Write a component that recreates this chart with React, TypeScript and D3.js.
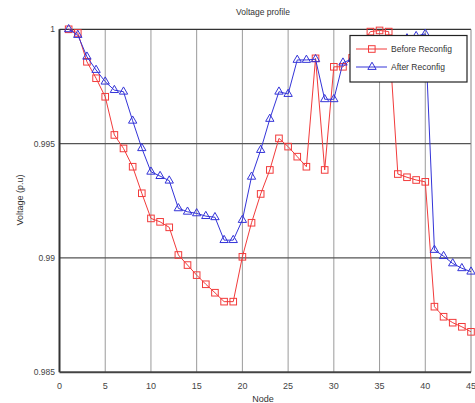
import React, { useEffect, useRef } from "react";
import * as d3 from "d3";

const nodes = [1,2,3,4,5,6,7,8,9,10,11,12,13,14,15,16,17,18,19,20,21,22,23,24,25,26,27,28,29,30,31,32,33,34,35,36,37,38,39,40,41,42,43,44,45];
const beforeReconfig = [1.0,0.99984,0.99858,0.99786,0.99705,0.99538,0.99479,0.99399,0.99283,0.99173,0.99158,0.99134,0.99013,0.98969,0.98925,0.98885,0.98848,0.98809,0.98809,0.99005,0.99154,0.9928,0.99385,0.99523,0.99487,0.99443,0.99399,0.99873,0.99385,0.99836,0.99836,0.99875,0.99935,0.9999,0.99995,0.9999,0.99367,0.99353,0.99341,0.99333,0.98787,0.98743,0.98717,0.98699,0.98677];
const afterReconfig = [1.0,0.99975,0.9988,0.99822,0.99771,0.99734,0.99727,0.996,0.9948,0.99377,0.99358,0.99338,0.99217,0.99202,0.99195,0.99183,0.99178,0.99078,0.99078,0.99166,0.99355,0.99472,0.99608,0.99727,0.99717,0.99866,0.99866,0.99869,0.99694,0.99694,0.99854,0.9987,0.9989,0.9991,0.9993,0.9994,0.9995,0.9996,0.9997,0.9998,0.99035,0.99008,0.98976,0.98955,0.9894];
const xTicks = [0,5,10,15,20,25,30,35,40,45];
const yTicks = [0.985,0.99,0.995,1];
const yTickLabels = ["0.985","0.99","0.995","1"];
const seriesNames = ["Before Reconfig","After Reconfig"];

const W = 475, H = 403;
const L = 59.5, R = 471, T = 29.3, B = 372.3;
const RED = "#f23b3b";
const BLUE = "#3434d8";
const FONT = "Liberation Sans, Arial, sans-serif";

export default function App() {
  const ref = useRef<SVGSVGElement>(null);
  useEffect(() => {
    const svg = d3.select(ref.current);
    svg.selectAll("*").remove();
    const x = d3.scaleLinear().domain([0, 45]).range([L, R]);
    const y = d3.scaleLinear().domain([0.985, 1]).range([B, T]);

    svg.append("rect").attr("width", W).attr("height", H).attr("fill", "#fff");

    // grid
    const g = svg.append("g");
    g.selectAll("line.vx").data(xTicks.filter(t => t > 0 && t < 45)).enter().append("line")
      .attr("x1", d => x(d)).attr("x2", d => x(d)).attr("y1", T).attr("y2", B)
      .attr("stroke", "#9a9a9a").attr("stroke-width", 1);
    g.selectAll("line.hy").data(yTicks.filter(t => t > 0.985 && t < 1)).enter().append("line")
      .attr("x1", L).attr("x2", R).attr("y1", d => y(d)).attr("y2", d => y(d))
      .attr("stroke", "#555").attr("stroke-width", 1.2);

    // frame
    svg.append("line").attr("x1", L).attr("x2", R).attr("y1", T).attr("y2", T).attr("stroke", "#333").attr("stroke-width", 1.3);
    svg.append("line").attr("x1", R).attr("x2", R).attr("y1", T).attr("y2", B).attr("stroke", "#888").attr("stroke-width", 1);
    svg.append("line").attr("x1", L).attr("x2", L).attr("y1", T).attr("y2", B).attr("stroke", "#333").attr("stroke-width", 2);
    svg.append("line").attr("x1", L).attr("x2", R).attr("y1", B).attr("y2", B).attr("stroke", "#444").attr("stroke-width", 2);

    // ticks labels
    svg.selectAll("text.xt").data(xTicks).enter().append("text")
      .attr("x", d => x(d)).attr("y", 389).attr("text-anchor", "middle")
      .attr("font-family", FONT).attr("font-size", 9).attr("fill", "#444").text(d => String(d));
    svg.selectAll("text.yt").data(yTicks).enter().append("text")
      .attr("x", 55).attr("y", d => y(d) + 3).attr("text-anchor", "end")
      .attr("font-family", FONT).attr("font-size", 8.5).attr("fill", "#444").text((d, i) => yTickLabels[i]);

    // titles
    svg.append("text").attr("x", 263).attr("y", 15).attr("text-anchor", "middle")
      .attr("font-family", FONT).attr("font-size", 8.5).attr("fill", "#333").text("Voltage profile");
    svg.append("text").attr("x", 263).attr("y", 402).attr("text-anchor", "middle")
      .attr("font-family", FONT).attr("font-size", 9).attr("fill", "#333").text("Node");
    svg.append("text").attr("transform", "translate(23,200) rotate(-90)").attr("text-anchor", "middle")
      .attr("font-family", FONT).attr("font-size", 9).attr("fill", "#333").text("Voltage (p.u)");

    const line = d3.line<number>().x((d, i) => x(nodes[i])).y(d => y(d));
    const tri = d3.symbol().type(d3.symbolTriangle).size(30);

    // before
    svg.append("path").attr("d", line(beforeReconfig)).attr("fill", "none").attr("stroke", RED).attr("stroke-width", 1);
    svg.selectAll("rect.mk").data(beforeReconfig).enter().append("rect")
      .attr("x", (d, i) => x(nodes[i]) - 3.3).attr("y", d => y(d) - 3.3)
      .attr("width", 6.6).attr("height", 6.6).attr("fill", "none").attr("stroke", RED).attr("stroke-width", 1);
    // after
    svg.append("path").attr("d", line(afterReconfig)).attr("fill", "none").attr("stroke", BLUE).attr("stroke-width", 1);
    svg.selectAll("path.mk").data(afterReconfig).enter().append("path")
      .attr("d", tri()).attr("transform", (d, i) => `translate(${x(nodes[i])},${y(d)})`)
      .attr("fill", "none").attr("stroke", BLUE).attr("stroke-width", 1);

    // legend
    const lg = svg.append("g");
    lg.append("rect").attr("x", 350).attr("y", 35.5).attr("width", 117).attr("height", 46.5)
      .attr("fill", "#fff").attr("stroke", "#222").attr("stroke-width", 1.2);
    const rows = [49, 67];
    const cols = [RED, BLUE];
    rows.forEach((ry, i) => {
      lg.append("line").attr("x1", 356).attr("x2", 387).attr("y1", ry).attr("y2", ry).attr("stroke", cols[i]).attr("stroke-width", 1);
      if (i === 0) {
        lg.append("rect").attr("x", 368.5).attr("y", ry - 3.3).attr("width", 6.6).attr("height", 6.6)
          .attr("fill", "none").attr("stroke", RED);
      } else {
        lg.append("path").attr("d", tri()).attr("transform", `translate(372,${ry})`).attr("fill", "none").attr("stroke", BLUE);
      }
      lg.append("text").attr("x", 391).attr("y", ry + 3).attr("font-family", FONT).attr("font-size", 8.5)
        .attr("fill", "#333").text(seriesNames[i]);
    });
  }, []);
  return (
    <svg ref={ref} width={W} height={H} style={{ position: "absolute", left: 0, top: 0, display: "block" }} />
  );
}
